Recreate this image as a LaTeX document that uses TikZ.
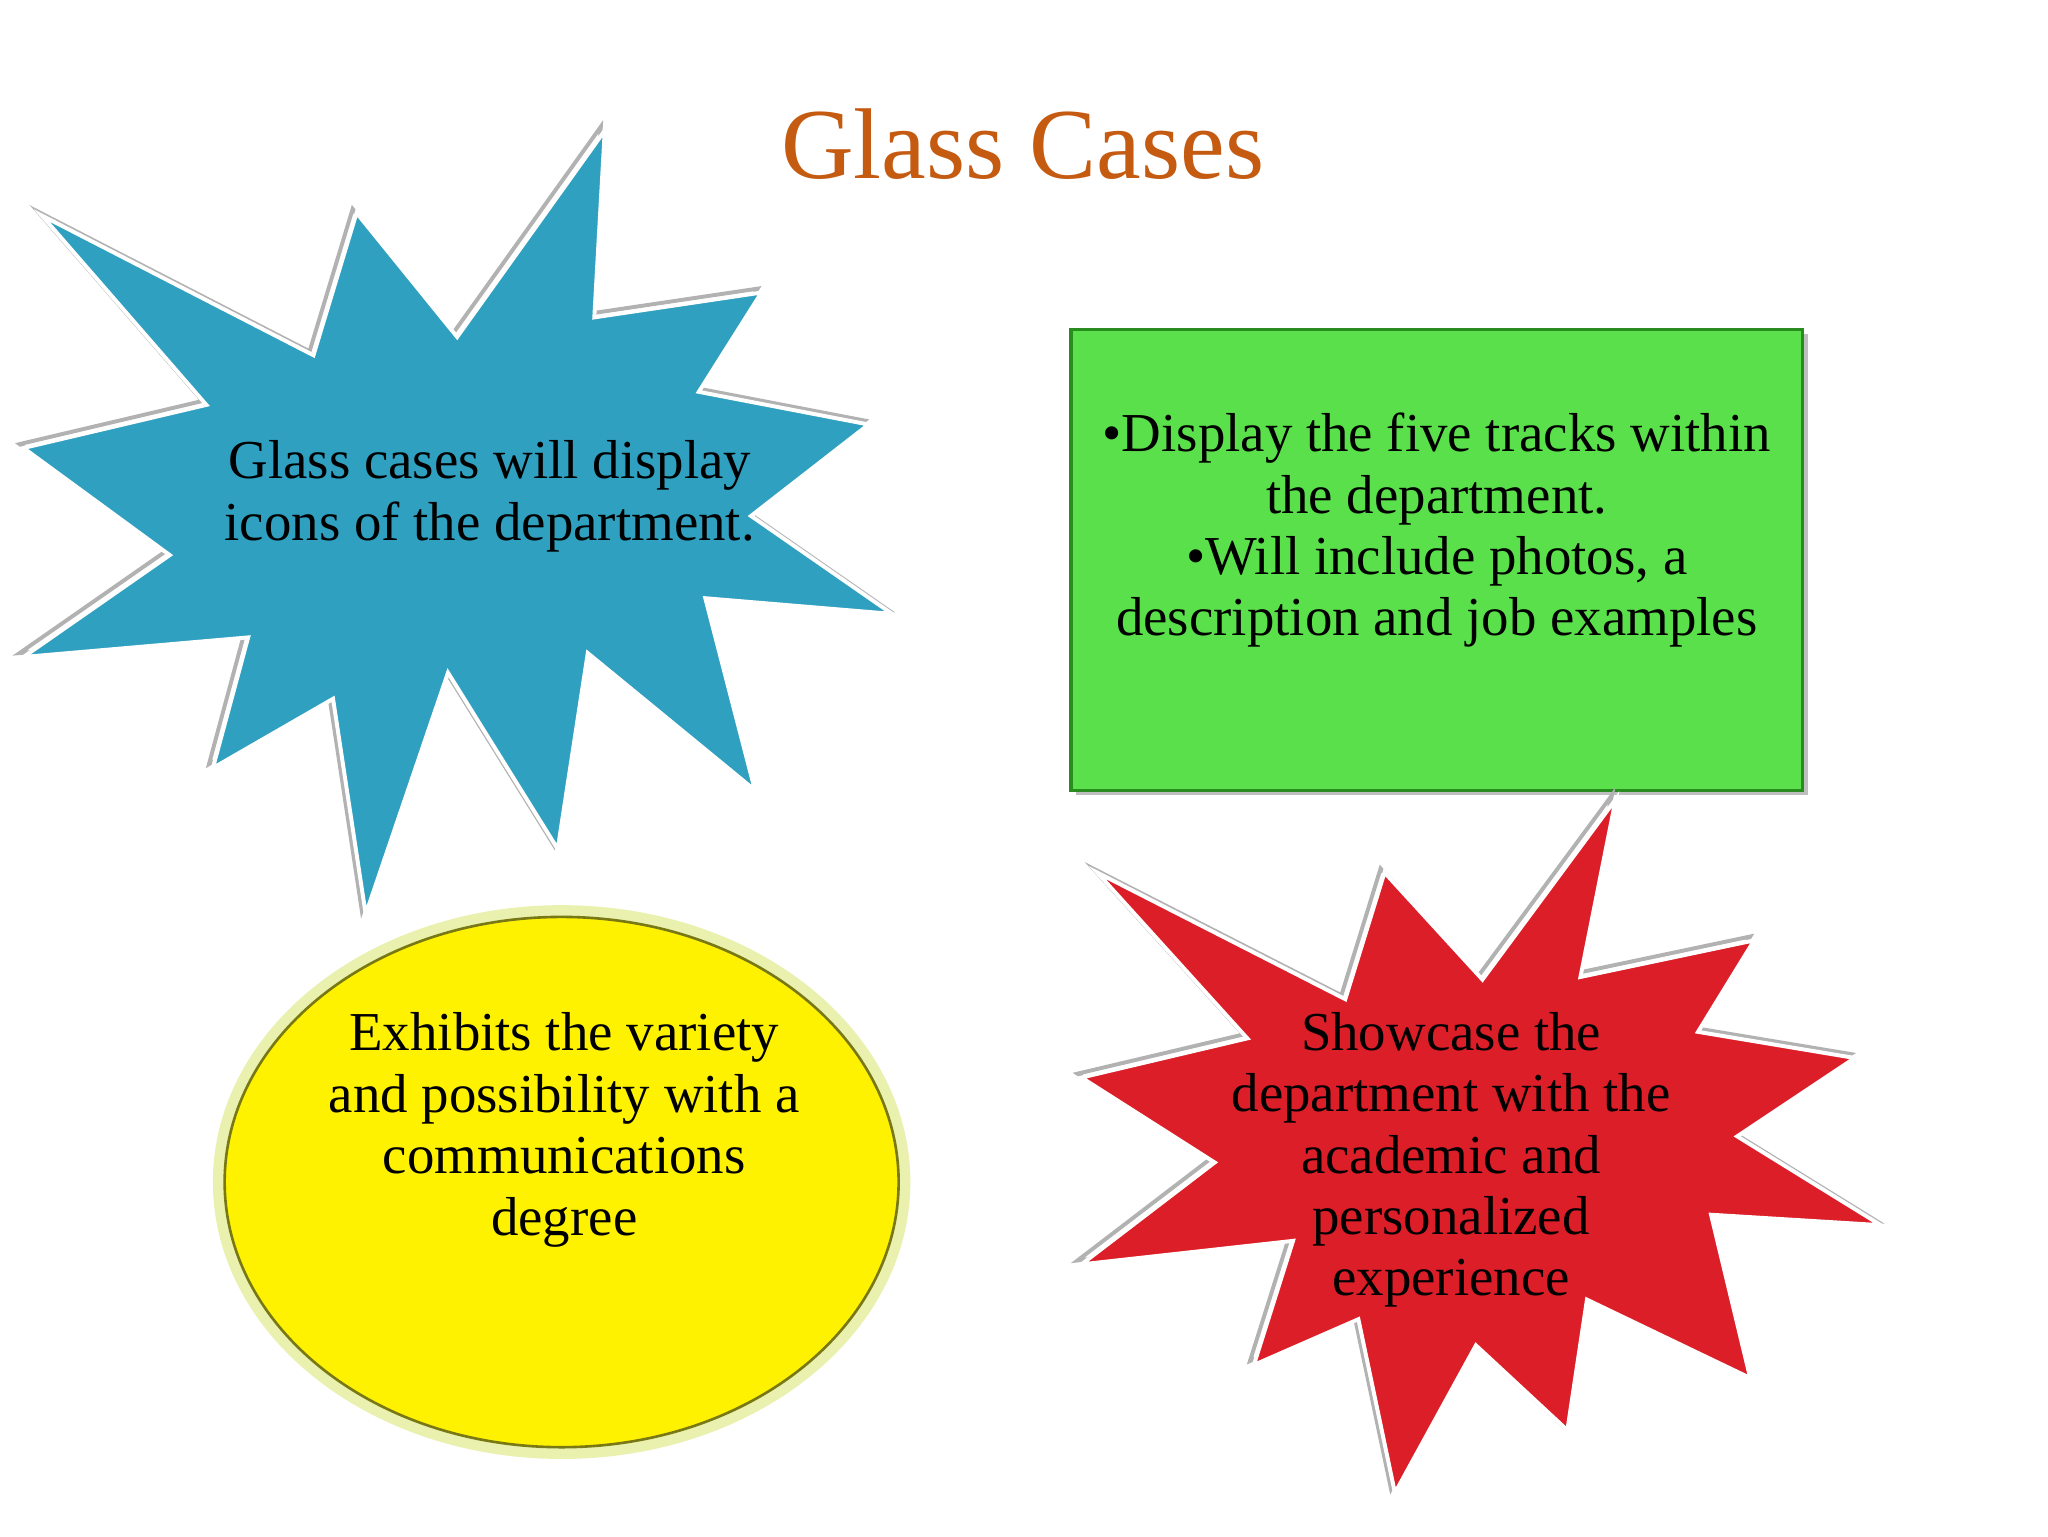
\documentclass[tikz,border=0pt]{standalone}
\usepackage{fontspec}
\setmainfont{Liberation Serif}
\begin{document}
\begin{tikzpicture}[x=1pt,y=-1pt,
  star/.style={draw=white,line width=3pt,line join=miter},
  shad/.style={draw=gray!60,line width=3pt,fill=none,line join=miter},
  lbl/.style={align=center,font=\fontsize{42}{47}\selectfont,text=black}]
\useasboundingbox (0,0) rectangle (1568,1176);
\fill[white] (0,0) rectangle (1568,1176);
\node[text={rgb,255:red,197;green,90;blue,17},font=\fontsize{77}{80}\selectfont] (title) at (783,110) {Glass Cases};
% blue star
\def\bluestar{(463,100)--(455,243)--(583,224)--(535,300)--(665,325)--(575,395)--(683,470)--(540,458)--(578,605)--(450,500)--(427,650)--(343,515)--(280,700)--(255,535)--(163,588)--(190,488)--(18,503)--(130,425)--(18,343)--(158,310)--(32,165)--(240,272)--(273,163)--(350,258)--cycle}
\draw[shad,xshift=-3pt,yshift=3pt] \bluestar;
\draw[star,fill={rgb,255:red,48;green,160;blue,192}] \bluestar;
\node[lbl] (blue) at (375,380) {Glass cases will display\\icons of the department.};
% green box
\fill[gray!50] (824,256) rectangle (1384,609);
\draw[fill={rgb,255:red,90;green,224;blue,74},draw={rgb,255:red,40;green,140;blue,30},line width=2.5pt] (820,252) rectangle (1380,605);
\node[lbl] (green) at (1100,406) {•Display the five tracks within\\the department.\\•Will include photos, a\\description and job examples};
% yellow ellipse
\draw[line width=10pt,draw={rgb,255:red,220;green,230;blue,120},opacity=0.6] (430,905) ellipse [x radius=262,y radius=207];
\draw[fill=yellow,draw={rgb,255:red,120;green,120;blue,20},line width=2pt] (430,905) ellipse [x radius=258,y radius=203];
\node[lbl] (yellow) at (432,865) {Exhibits the variety\\and possibility with a\\communications\\degree};
% red star
\def\redstar{(1237,612)--(1210,748)--(1343,720)--(1300,790)--(1420,810)--(1330,870)--(1440,938)--(1310,930)--(1340,1055)--(1215,995)--(1200,1095)--(1130,1030)--(1068,1143)--(1040,1010)--(960,1045)--(990,950)--(828,968)--(930,890)--(828,825)--(955,795)--(840,668)--(1030,765)--(1060,668)--(1135,750)--cycle}
\draw[shad,xshift=-3pt,yshift=3pt] \redstar;
\draw[star,fill={rgb,255:red,220;green,30;blue,40}] \redstar;
\node[lbl] (red) at (1111,888) {Showcase the\\department with the\\academic and\\personalized\\experience};
\end{tikzpicture}
\end{document}
